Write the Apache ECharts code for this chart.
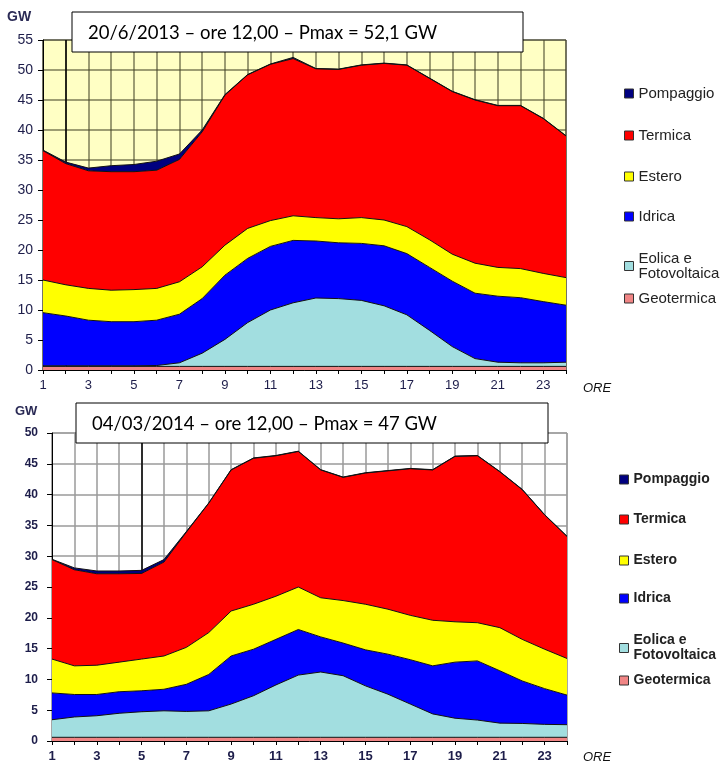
<!DOCTYPE html>
<html><head><meta charset="utf-8">
<script src="https://cdn.jsdelivr.net/npm/echarts@6/dist/echarts.min.js"></script>
<style>html,body{margin:0;padding:0;background:#fff}#c{width:722px;height:763px}</style>
</head><body><div id="c"></div>
<script>
// ---------- data ----------
const hours = ['1','2','3','4','5','6','7','8','9','10','11','12','13','14','15','16','17','18','19','20','21','22','23','24'];
const seriesNames = ['Geotermica','Eolica e Fotovoltaica','Idrica','Estero','Termica','Pompaggio'];
const legendOrder = ['Pompaggio','Termica','Estero','Idrica','Eolica e Fotovoltaica','Geotermica'];

// 20/6/2013 (GW)
const geo2013 = [0.6,0.6,0.6,0.6,0.6,0.6,0.6,0.6,0.6,0.6,0.6,0.6,0.6,0.6,0.6,0.6,0.6,0.6,0.6,0.6,0.6,0.6,0.6,0.6];
const eol2013 = [0.1,0.1,0.1,0.1,0.1,0.15,0.6,2.2,4.5,7.3,9.4,10.6,11.4,11.3,11.0,10.1,8.6,6.0,3.3,1.3,0.7,0.6,0.6,0.7];
const idr2013 = [8.85,8.3,7.6,7.35,7.35,7.55,8.1,9.1,10.7,10.7,10.6,10.4,9.5,9.3,9.5,10.0,10.2,10.5,10.9,10.9,11.0,10.85,10.2,9.5];
const est2013 = [5.45,5.2,5.3,5.25,5.35,5.3,5.4,5.3,5.0,5.0,4.3,4.1,3.9,4.0,4.3,4.3,4.5,4.6,4.5,5.0,4.8,4.85,4.7,4.6];
const ter2013 = [21.55,20.2,19.6,19.75,19.65,19.7,20.4,22.5,25.0,25.6,26.05,26.2,24.8,24.9,25.4,26.1,26.9,26.9,27.1,27.2,26.95,27.15,25.8,23.6];
const pom2013 = [0.1,0.25,0.45,1.0,1.2,1.5,0.9,0.3,0.1,0.05,0.05,0.2,0.05,0.05,0.05,0.05,0.05,0.05,0.05,0.05,0.05,0.05,0.05,0.05];

// 04/03/2014 (GW)
const geo2014 = [0.6,0.6,0.6,0.6,0.6,0.6,0.6,0.6,0.6,0.6,0.6,0.6,0.6,0.6,0.6,0.6,0.6,0.6,0.6,0.6,0.6,0.6,0.6,0.6];
const eol2014 = [2.85,3.3,3.5,3.9,4.15,4.3,4.2,4.3,5.4,6.75,8.5,10.1,10.6,10.0,8.35,7.0,5.4,3.8,3.1,2.8,2.3,2.25,2.1,2.05];
const idr2014 = [4.35,3.65,3.45,3.5,3.4,3.5,4.4,5.9,7.8,7.55,7.4,7.4,5.7,5.3,5.85,6.5,7.2,7.8,9.1,9.6,8.5,6.9,5.8,4.8];
const est2014 = [5.5,4.65,4.75,4.8,5.15,5.4,6.0,6.8,7.3,7.3,7.0,6.9,6.35,6.9,7.4,7.3,7.2,7.4,6.55,6.2,7.0,6.75,6.4,5.95];
const ter2014 = [16.15,15.6,14.85,14.35,13.9,15.25,18.7,21.0,22.9,23.7,22.8,22.0,20.75,20.0,21.3,22.45,23.8,24.4,26.85,27.1,25.3,24.3,21.8,19.8];
const pom2014 = [0.05,0.3,0.45,0.45,0.5,0.4,0.1,0.05,0.05,0.05,0.05,0.05,0.05,0.05,0.05,0.05,0.05,0.05,0.05,0.05,0.05,0.05,0.05,0.05];

const yTicks2013 = {min:0, max:55, step:5};
const yTicks2014 = {min:0, max:50, step:5};
const title2013 = '20/6/2013 \u2013 ore 12,00 \u2013 Pmax = 52,1 GW';
const title2014 = '04/03/2014 \u2013 ore 12,00 \u2013 Pmax = 47 GW';

// ---------- styles ----------
const colors = {
  'Geotermica':'#F08585',
  'Eolica e Fotovoltaica':'#A2DEE0',
  'Idrica':'#0000FF',
  'Estero':'#FFFF00',
  'Termica':'#FF0000',
  'Pompaggio':'#000080'
};
const data2013 = [geo2013,eol2013,idr2013,est2013,ter2013,pom2013];
const data2014 = [geo2014,eol2014,idr2014,est2014,ter2014,pom2014];

const labelColor = '#1d1d4a';
const FONT = 'Liberation Sans, Arial, sans-serif';

function makeSeries(arrs, idx, stack, markX, markTop) {
  return arrs.map((d, i) => {
    const s = {
      name: seriesNames[i], type: 'line', stack: stack,
      xAxisIndex: idx, yAxisIndex: idx,
      data: d, symbol: 'none', smooth: false,
      lineStyle: {color: '#111', width: 1},
      areaStyle: {color: colors[seriesNames[i]], opacity: 1},
      itemStyle: {color: colors[seriesNames[i]], borderColor:'#222', borderWidth:1},
      z: 3
    };
    if (i === 0) {
      s.markLine = {
        silent: true, symbol: 'none', z: 2,
        label: {show: false},
        lineStyle: {color: '#000', width: 1.5, type: 'solid'},
        data: [[{xAxis: markX, yAxis: 0}, {xAxis: markX, yAxis: markTop}]]
      };
    }
    return s;
  });
}

function makeLegends(left, tops, fontStyle) {
  return legendOrder.map((n, i) => ({
    data: [n], orient: 'vertical', left: left, top: tops[i], padding: 0,
    itemWidth: 9, itemHeight: 9, icon: 'rect',
    itemStyle: {borderColor: '#333', borderWidth: 1},
    selectedMode: false,
    formatter: nm => nm === 'Eolica e Fotovoltaica' ? 'Eolica e\nFotovoltaica' : nm,
    textStyle: Object.assign({fontFamily: FONT, color: '#222', lineHeight: 15}, fontStyle)
  }));
}

function xAxisDef(gi, splitColor, splitW) {
  return {
    type: 'category', gridIndex: gi, data: hours, boundaryGap: false,
    axisLine: {show: true, lineStyle: {color: '#000', width: 1}},
    axisTick: {show: true, interval: 0, length: 4, lineStyle: {color: '#000'}},
    axisLabel: {interval: 1, margin: 9, fontFamily: FONT, fontSize: 13, fontWeight: gi ? 'bold' : 'normal', color: labelColor},
    splitLine: {show: true, interval: 0, lineStyle: {color: splitColor, width: splitW}}
  };
}
function yAxisDef(gi, t, splitColor, splitW, margin) {
  return {
    type: 'value', gridIndex: gi, min: t.min, max: t.max, interval: t.step,
    axisLine: {show: true, lineStyle: {color: '#000', width: 1}},
    axisTick: {show: true, length: 5, lineStyle: {color: '#000'}},
    axisLabel: {margin: margin, fontFamily: FONT, fontSize: gi ? 12 : 14, fontWeight: gi ? 'bold' : 'normal', color: labelColor},
    splitLine: {show: true, lineStyle: {color: splitColor, width: splitW}}
  };
}

const chart = echarts.init(document.getElementById('c'), null, {renderer: 'canvas'});
const option = {
  animation: false,
  backgroundColor: '#fff',
  grid: [
    {left: 43, top: 40, width: 523, height: 330, show: true, backgroundColor: '#FFFFC4', borderColor: '#555', borderWidth: 1},
    {left: 52, top: 433, width: 515, height: 309, show: true, backgroundColor: '#fff', borderColor: '#999', borderWidth: 1}
  ],
  xAxis: [xAxisDef(0, 'rgba(70,70,40,0.7)', 1.5), xAxisDef(1, '#9a9a9a', 1.5)],
  yAxis: [yAxisDef(0, yTicks2013, 'rgba(70,70,40,0.7)', 1.5, 10), yAxisDef(1, yTicks2014, '#9a9a9a', 1.5, 14)],
  legend: makeLegends(624, [86, 128, 169, 209, 251, 291], {fontSize: 15})
    .concat(makeLegends(619, [472, 512, 553, 591, 633, 673], {fontSize: 14, fontWeight: 'bold'})),
  series: makeSeries(data2013, 0, 'a', '2', 55).concat(makeSeries(data2014, 1, 'b', '5', 50)),
  graphic: [
    {type: 'rect', shape: {x: 72, y: 12, width: 451, height: 40}, style: {fill: '#fff', stroke: '#000', lineWidth: 1}, z: 100},
    {type: 'text', x: 88, y: 33, style: {text: title2013, font: '18.5px Lato, sans-serif', fill: '#000', verticalAlign: 'middle'}, z: 101},
    {type: 'rect', shape: {x: 76, y: 403, width: 472, height: 40}, style: {fill: '#fff', stroke: '#000', lineWidth: 1}, z: 100},
    {type: 'text', x: 92, y: 424, style: {text: title2014, font: '18.5px Lato, sans-serif', fill: '#000', verticalAlign: 'middle'}, z: 101},
    {type: 'text', x: 7, y: 17, style: {text: 'GW', font: 'bold 14px Liberation Sans, Arial', fill: '#2a2a55', verticalAlign: 'middle'}, z: 101},
    {type: 'text', x: 15, y: 411, style: {text: 'GW', font: 'bold 13px Liberation Sans, Arial', fill: '#2a2a55', verticalAlign: 'middle'}, z: 101},
    {type: 'text', x: 583, y: 388, style: {text: 'ORE', font: 'italic 13px Liberation Sans, Arial', fill: '#111', verticalAlign: 'middle'}, z: 101},
    {type: 'text', x: 583, y: 757, style: {text: 'ORE', font: 'italic 13px Liberation Sans, Arial', fill: '#111', verticalAlign: 'middle'}, z: 101}
  ]
};
chart.setOption(option);
</script>
</body></html>
